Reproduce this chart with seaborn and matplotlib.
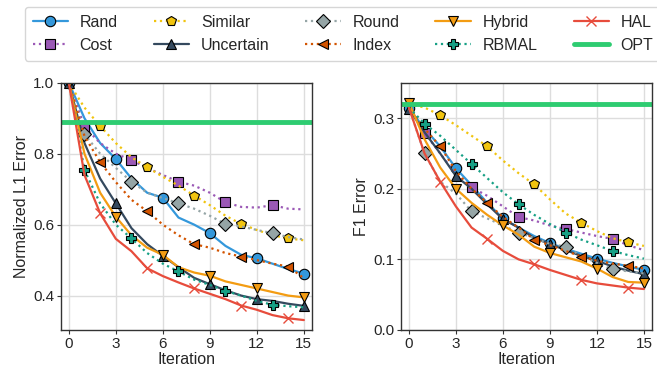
import numpy as np
import pandas as pd
import matplotlib
matplotlib.use("Agg")
import matplotlib.pyplot as plt
import seaborn as sns

iters = list(range(16))

# Normalized L1 Error (left panel)
l1_rand      = [1.0, 0.90, 0.83, 0.785, 0.73, 0.69, 0.676, 0.62, 0.60, 0.576, 0.54, 0.515, 0.505, 0.49, 0.475, 0.462]
l1_cost      = [1.0, 0.876, 0.83, 0.80, 0.782, 0.76, 0.74, 0.721, 0.71, 0.69, 0.663, 0.65, 0.648, 0.655, 0.645, 0.643]
l1_similar   = [1.0, 0.93, 0.878, 0.83, 0.79, 0.762, 0.735, 0.71, 0.682, 0.655, 0.625, 0.602, 0.585, 0.57, 0.561, 0.556]
l1_uncertain = [1.0, 0.83, 0.73, 0.66, 0.59, 0.545, 0.512, 0.48, 0.45, 0.432, 0.415, 0.40, 0.39, 0.385, 0.377, 0.371]
l1_round     = [1.0, 0.855, 0.80, 0.76, 0.721, 0.69, 0.675, 0.66, 0.645, 0.625, 0.602, 0.595, 0.585, 0.576, 0.565, 0.558]
l1_index     = [1.0, 0.85, 0.776, 0.72, 0.67, 0.638, 0.60, 0.57, 0.545, 0.535, 0.52, 0.51, 0.50, 0.49, 0.482, 0.449]
l1_hybrid    = [1.0, 0.80, 0.69, 0.622, 0.57, 0.535, 0.515, 0.48, 0.465, 0.456, 0.44, 0.43, 0.42, 0.41, 0.40, 0.395]
l1_rbmal     = [1.0, 0.754, 0.66, 0.60, 0.561, 0.52, 0.49, 0.468, 0.445, 0.43, 0.413, 0.40, 0.385, 0.374, 0.37, 0.367]
l1_hal       = [1.0, 0.74, 0.632, 0.56, 0.525, 0.477, 0.455, 0.437, 0.42, 0.405, 0.39, 0.372, 0.36, 0.345, 0.336, 0.331]
l1_opt = 0.89

# F1 Error (right panel)
f1_rand      = [0.314, 0.285, 0.26, 0.229, 0.205, 0.18, 0.158, 0.145, 0.133, 0.123, 0.115, 0.108, 0.101, 0.095, 0.09, 0.085]
f1_cost      = [0.315, 0.279, 0.25, 0.22, 0.202, 0.19, 0.175, 0.16, 0.155, 0.148, 0.143, 0.138, 0.133, 0.129, 0.12, 0.113]
f1_similar   = [0.32, 0.315, 0.304, 0.29, 0.275, 0.26, 0.24, 0.222, 0.206, 0.185, 0.165, 0.152, 0.14, 0.13, 0.124, 0.119]
f1_uncertain = [0.313, 0.28, 0.25, 0.218, 0.20, 0.178, 0.157, 0.145, 0.13, 0.122, 0.113, 0.105, 0.098, 0.09, 0.084, 0.079]
f1_round     = [0.315, 0.25, 0.21, 0.193, 0.168, 0.158, 0.148, 0.138, 0.13, 0.122, 0.118, 0.105, 0.095, 0.086, 0.083, 0.08]
f1_index     = [0.315, 0.285, 0.26, 0.225, 0.20, 0.18, 0.16, 0.145, 0.128, 0.12, 0.112, 0.104, 0.098, 0.094, 0.091, 0.087]
f1_hybrid    = [0.322, 0.27, 0.23, 0.20, 0.18, 0.163, 0.148, 0.135, 0.118, 0.109, 0.103, 0.097, 0.087, 0.075, 0.068, 0.067]
f1_rbmal     = [0.315, 0.292, 0.275, 0.255, 0.235, 0.215, 0.195, 0.178, 0.163, 0.15, 0.138, 0.128, 0.12, 0.112, 0.106, 0.101]
f1_hal       = [0.315, 0.25, 0.21, 0.175, 0.145, 0.129, 0.112, 0.10, 0.093, 0.085, 0.078, 0.071, 0.066, 0.063, 0.06, 0.058]
f1_opt = 0.32

methods = ["Rand", "Cost", "Similar", "Uncertain", "Round", "Index", "Hybrid", "RBMAL", "HAL"]
l1_data = [l1_rand, l1_cost, l1_similar, l1_uncertain, l1_round, l1_index, l1_hybrid, l1_rbmal, l1_hal]
f1_data = [f1_rand, f1_cost, f1_similar, f1_uncertain, f1_round, f1_index, f1_hybrid, f1_rbmal, f1_hal]

styles = {
    "Rand":      dict(color="#3498db", marker="o", ls="-",  off=0),
    "Cost":      dict(color="#9b59b6", marker="s", ls=":",  off=1),
    "Similar":   dict(color="#f1c40f", marker="p", ls=":",  off=2),
    "Uncertain": dict(color="#34495e", marker="^", ls="-",  off=0),
    "Round":     dict(color="#95a5a6", marker="D", ls=":",  off=1),
    "Index":     dict(color="#d35400", marker="<", ls=":",  off=2),
    "Hybrid":    dict(color="#f39c12", marker="v", ls="-",  off=0),
    "RBMAL":     dict(color="#16a085", marker="P", ls=":",  off=1),
    "HAL":       dict(color="#e74c3c", marker="x", ls="-",  off=2),
}

sns.set_theme(style="whitegrid")
plt.rcParams["font.family"] = ["Liberation Sans", "DejaVu Sans"]
plt.rcParams["axes.edgecolor"] = "#333333"
plt.rcParams["grid.color"] = "#dddddd"

fig = plt.figure(figsize=(6.57, 3.69), dpi=100)
ax1 = fig.add_axes([0.0928, 0.1057, 0.3816, 0.670])
ax2 = fig.add_axes([0.6104, 0.1057, 0.3816, 0.670])

for ax, data, opt in [(ax1, l1_data, l1_opt), (ax2, f1_data, f1_opt)]:
    for m, vals in zip(methods, data):
        st = styles[m]
        kw = dict(markevery=(st["off"], 3), linewidth=1.6)
        if st["marker"] == "x":
            kw.update(markersize=7, markeredgecolor=st["color"], markeredgewidth=1.0)
        else:
            kw.update(markersize=7.5, markeredgecolor="black", markeredgewidth=0.8)
        sns.lineplot(x=iters, y=vals, ax=ax, color=st["color"], marker=st["marker"],
                     linestyle=st["ls"], label=m, legend=False, **kw)
    ax.axhline(opt, color="#2ecc71", linewidth=3.5, label="OPT")
    ax.set_xlim(-0.5, 15.5)
    ax.set_xticks([0, 3, 6, 9, 12, 15])
    ax.set_xlabel("Iteration", fontsize=11.5, labelpad=1)
    ax.tick_params(axis="both", labelsize=11, length=3, width=0.8, color="#333333", pad=2,
                   bottom=True, left=True)
    for s in ax.spines.values():
        s.set_linewidth(1.0)

ax1.set_ylim(0.303, 1.0)
ax1.set_yticks([0.4, 0.6, 0.8, 1.0])
ax1.set_ylabel("Normalized L1 Error", fontsize=11.5, labelpad=3)
ax2.set_ylim(0.0, 0.35)
ax2.set_yticks([0.0, 0.1, 0.2, 0.3])
ax2.set_ylabel("F1 Error", fontsize=11.5, labelpad=3)

handles, labels = ax1.get_legend_handles_labels()
fig.legend(handles, labels, loc="upper center", bbox_to_anchor=(0.522, 0.982), ncol=5,
           fontsize=11.5, handlelength=2.2, handletextpad=0.75, columnspacing=2.25,
           labelspacing=0.5, frameon=True, fancybox=True, edgecolor="#cccccc",
           borderpad=0.5, borderaxespad=0)

fig.savefig("out.png", dpi=100)
